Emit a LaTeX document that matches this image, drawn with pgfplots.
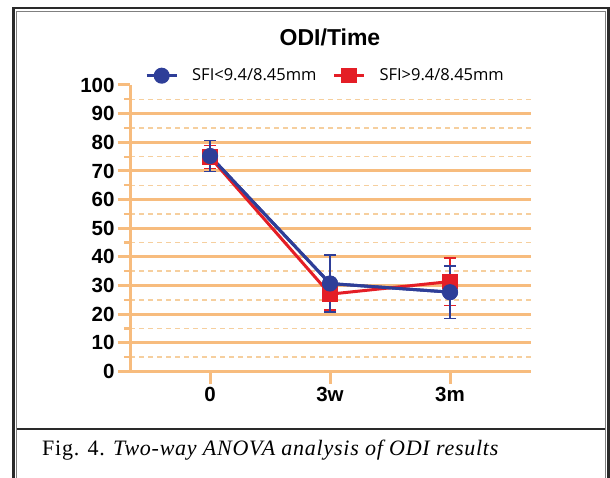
\documentclass[border=0pt]{standalone}
\usepackage{pgfplots}
\pgfplotsset{compat=1.18}
\usepackage{fontspec}
\setmainfont{Liberation Sans}
\newfontfamily\legfont{Open Sans}
\newfontfamily\capfont[LetterSpace=3.4]{Liberation Serif}
\definecolor{gridor}{HTML}{F7BC7E}
\definecolor{gridlt}{HTML}{F6CF9E}
\definecolor{sblue}{HTML}{2E3E98}
\definecolor{sred}{HTML}{E41E26}
\definecolor{framec}{HTML}{2A2A2A}
\pgfplotstableread{
x y e
0 75.2 5.4
1 30.7 10.0
2 27.7 9.2
}\blue
\pgfplotstableread{
x y e
0 74.8 4.0
1 27.0 5.5
2 31.4 8.3
}\red
\begin{document}
\begin{tikzpicture}
\path[use as bounding box] (0pt,0pt) rectangle (610pt,477pt);
\draw[framec, line width=2.6pt] (13.5pt,-5pt) -- (13.5pt,469pt) -- (608.5pt,469pt) -- (608.5pt,-5pt);
\draw[gray, line width=1pt] (16.5pt,-5pt) -- (16.5pt,465.5pt) -- (605pt,465.5pt) -- (605pt,-5pt);
\draw[framec, line width=1.2pt] (16.5pt,48pt) -- (605pt,48pt);
\node[font=\fontsize{23}{26}\selectfont\bfseries] at (330pt,440pt) {ODI/Time};
\node[anchor=base west, font=\capfont\fontsize{22}{24}\selectfont, inner sep=0pt] at (42pt,21.3pt) {Fig. 4. \textit{Two-way ANOVA analysis of ODI results}};
\begin{axis}[
  at={(130pt,105.5pt)}, anchor=south west,
  scale only axis, width=400.7pt, height=286.5pt,
  xmin=-0.667, xmax=2.6725, ymin=0, ymax=100,
  axis x line*=bottom, axis y line*=left,
  axis line style={draw=gridor, line width=3pt, -},
  xtick={0,1,2}, xticklabels={0,3w,3m},
  ytick={0,10,...,100},
  minor y tick num=1,
  tick align=outside,
  major tick length=12pt, minor tick length=6pt,
  every tick/.style={draw=gridor, line width=3pt},
  every minor tick/.style={draw=gridor, line width=2.2pt},
  yminorgrids,
  minor grid style={draw=gridlt, line width=1.5pt, dash pattern=on 5pt off 4pt},
  major grid style={draw=gridor, line width=3pt},
  extra y ticks={10,20,...,90}, extra y tick labels={},
  extra y tick style={grid=major},
  ticklabel style={font=\fontsize{20.5}{22}\selectfont\bfseries},
  /pgf/number format/assume math mode=true,
  clip=false,
  after end axis/.code={\draw[gridor, line width=3pt] (rel axis cs:0,0) -- (rel axis cs:0,1);},
  legend columns=2,
  legend style={at={(axis description cs:0.0374,1.0325)}, anchor=west, draw=none, fill=none, inner sep=0pt,
    font=\legfont\fontsize{16.5}{18}\selectfont,
    /tikz/every odd column/.append style={column sep=12pt},
    /tikz/every even column/.append style={column sep=14pt}},
  legend image code/.code={\draw[mark repeat=2,mark phase=2,#1] plot coordinates {(0pt,0pt) (15pt,0pt) (30pt,0pt)};},
]
\addplot[sblue, line width=3pt, mark=*, mark size=6.5pt, mark options={solid, fill=sblue},
  error bars/.cd, y dir=both, y explicit,
  error bar style={line width=1.5pt, sblue},
  error mark options={rotate=90, mark size=6pt, line width=1.5pt, sblue}]
  table[x=x, y=y, y error=e] {\blue};
\addlegendentry{SFI<9.4/8.45mm}
\addplot[sred, line width=3pt, mark=square*, mark size=6.3pt, mark options={solid, fill=sred},
  error bars/.cd, y dir=both, y explicit,
  error bar style={line width=1.5pt, sred},
  error mark options={rotate=90, mark size=6pt, line width=1.5pt, sred}]
  table[x=x, y=y, y error=e] {\red};
\addlegendentry{SFI>9.4/8.45mm}
\addplot[sblue, line width=3pt, mark=*, mark size=6.5pt, mark options={solid, fill=sblue}, forget plot,
  error bars/.cd, y dir=both, y explicit,
  error bar style={line width=1.5pt, sblue},
  error mark options={rotate=90, mark size=6pt, line width=1.5pt, sblue}]
  table[x=x, y=y, y error=e] {\blue};
\end{axis}
\end{tikzpicture}
\end{document}
